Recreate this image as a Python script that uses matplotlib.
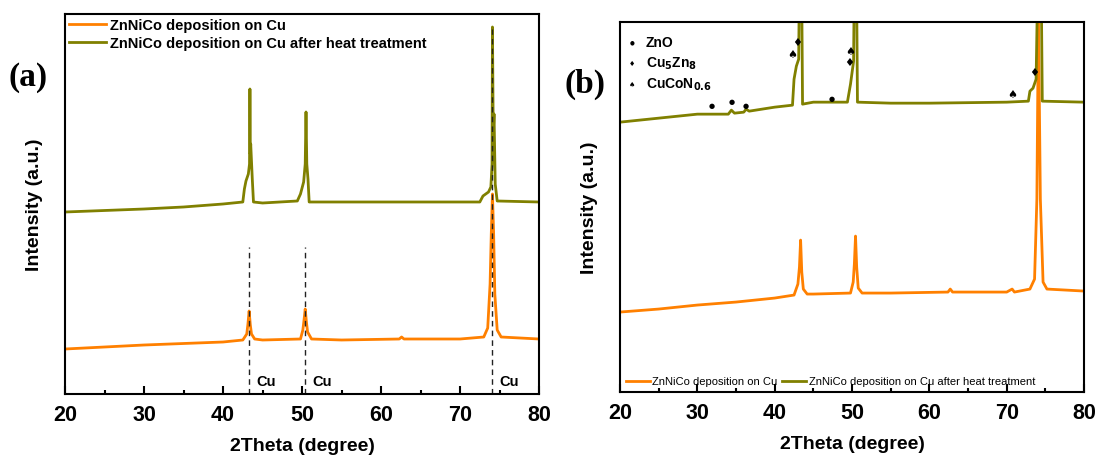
import matplotlib
matplotlib.use("Agg")
import matplotlib.pyplot as plt
from matplotlib.ticker import MultipleLocator

plt.rcParams['font.family'] = ['Liberation Sans', 'DejaVu Sans']
plt.rcParams['font.weight'] = 'bold'

ORANGE = '#ff8000'
OLIVE = '#808000'

# ---- panel (a) data (2theta, intensity a.u.) ----
a_orange_x = [20, 30, 40, 42.5, 43.0, 43.15, 43.3, 43.45, 43.6, 44.0, 45, 49.8, 50.1, 50.25,
              50.4, 50.55, 50.7, 51.2, 55, 62.3, 62.6, 62.9, 70, 73.0, 73.5, 73.8, 73.95,
              74.1, 74.25, 74.4, 74.7, 75.2, 80]
a_orange_y = [450, 490, 520, 540, 600, 700, 830, 690, 600, 550, 540, 550, 640, 740,
              850, 720, 620, 550, 540, 550, 570, 550, 550, 570, 660, 1100, 1600,
              2000, 1600, 1000, 640, 570, 550]

a_olive_x = [20, 30, 35, 40, 42.5, 42.7, 42.9, 43.2, 43.35, 43.4, 43.45, 43.5, 43.7, 43.85,
             45, 49.4, 49.8, 50.2, 50.4, 50.5, 50.6, 50.75, 50.9, 55, 60, 70, 72.5, 72.9,
             73.6, 73.9, 74.05, 74.1, 74.2, 74.3, 74.45, 74.7, 80]
a_olive_y = [1820, 1850, 1870, 1900, 1920, 2050, 2130, 2200, 2300, 3050, 2400, 2500, 2150, 1920,
             1910, 1930, 2000, 2120, 2300, 2820, 2300, 2150, 1920, 1920, 1920, 1920, 1920, 1980,
             2020, 2070, 2300, 3670, 2600, 2800, 2100, 1930, 1920]

cu_peaks = [43.3, 50.4, 74.1]
cu_tops = [1470, 1470, 3650]

# ---- panel (b) data ----
b_orange_x = [20, 25, 30, 35, 40, 42.5, 43.0, 43.2, 43.35, 43.5, 43.7, 44.2, 45, 49.8, 50.15,
              50.3, 50.45, 50.6, 50.8, 51.3, 55, 62.4, 62.7, 63.0, 70, 70.7, 71.0, 73.0,
              73.6, 73.9, 74.1, 74.35, 74.7, 75.2, 80]
b_orange_y = [800, 830, 870, 900, 940, 970, 1080, 1250, 1520, 1200, 1030, 980, 980, 990, 1100,
              1280, 1560, 1250, 1040, 990, 990, 1000, 1030, 1000, 1000, 1030, 1000, 1030,
              1130, 1930, 3800, 1930, 1100, 1030, 1010]

b_olive_x = [20, 25, 30, 34.0, 34.4, 34.8, 36.0, 36.3, 36.7, 40, 42.3, 42.5, 42.8, 43.1, 43.3,
             43.4, 43.6, 45, 47.4, 49.4, 49.8, 50.2, 50.4, 50.5, 50.7, 55, 60, 70, 72.8, 73.0,
             73.4, 73.8, 74.2, 74.35, 74.6, 80]
b_olive_y = [2700, 2740, 2780, 2780, 2820, 2790, 2800, 2830, 2810, 2850, 2870, 3130, 3260, 3330, 5000,
             5000, 2880, 2900, 2900, 2900, 3080, 3310, 5000, 5000, 2900, 2890, 2890, 2900, 2910, 3010,
             3040, 3130, 5000, 5000, 2910, 2900]

zno_x = [31.8, 34.4, 36.2, 47.4]
zno_y = [2870, 2910, 2870, 2940]
cuzn_x = [42.9, 49.6, 73.6]
cuzn_y = [3500, 3300, 3200]
cucon_x = [42.3, 49.8, 70.7]
cucon_y = [3380, 3410, 2980]

label_orange = 'ZnNiCo deposition on Cu'
label_olive = 'ZnNiCo deposition on Cu after heat treatment'

fig = plt.figure(figsize=(10.97, 4.64), dpi=100)
ax1 = fig.add_axes([0.0593, 0.1487, 0.4321, 0.819])
ax2 = fig.add_axes([0.5652, 0.153, 0.423, 0.797])


def style_axis(ax, ytop):
    ax.set_xlim(20, 80)
    ax.set_ylim(0, ytop)
    ax.set_yticks([])
    ax.xaxis.set_major_locator(MultipleLocator(10))
    ax.xaxis.set_minor_locator(MultipleLocator(5))
    ax.tick_params(axis='x', which='major', direction='in', length=6, width=1.5,
                   labelsize=15.5, pad=7)
    ax.tick_params(axis='x', which='minor', direction='in', length=3, width=1.5)
    for lab in ax.get_xticklabels():
        lab.set_fontweight('bold')
    for sp in ax.spines.values():
        sp.set_linewidth(1.5)
    ax.set_xlabel('2Theta (degree)', fontsize=14, fontweight='bold', labelpad=9)
    ax.set_ylabel('Intensity (a.u.)', fontsize=14, fontweight='bold', labelpad=16)


# panel (a)
ax1.plot(a_orange_x, a_orange_y, color=ORANGE, lw=2, label=label_orange)
ax1.plot(a_olive_x, a_olive_y, color=OLIVE, lw=2, label=label_olive)
for p, t in zip(cu_peaks, cu_tops):
    ax1.plot([p, p], [0, t], color='#222222', lw=1, ls=(0, (4, 3)))
    ax1.text(p + 0.9, 60, 'Cu', fontsize=10.5, fontweight='bold', ha='left', va='bottom')
style_axis(ax1, 3800)
ax1.legend(loc='upper left', frameon=False, handlelength=2.5,
           handletextpad=0.3, labelspacing=0.25, borderaxespad=0.0, borderpad=0.3,
           prop={'weight': 'bold', 'size': 10.5})
fig.text(0.008, 0.815, '(a)', fontsize=24, fontweight='bold', family='Liberation Serif')

# panel (b)
ax2.plot(b_orange_x, b_orange_y, color=ORANGE, lw=2, label=label_orange)
ax2.plot(b_olive_x, b_olive_y, color=OLIVE, lw=2, label=label_olive)
for x, y in zip(zno_x, zno_y):
    ax2.text(x, y, '\u25cf', fontsize=5, ha='center', va='center', family='DejaVu Sans')
for x, y in zip(cuzn_x, cuzn_y):
    ax2.text(x, y, '\u2666', fontsize=8, ha='center', va='center', family='DejaVu Sans')
for x, y in zip(cucon_x, cucon_y):
    ax2.text(x, y, '\u2660', fontsize=8, ha='center', va='center', family='DejaVu Sans')

phase_sym = ['\u25cf', '\u2666', '\u2660']
phase_size = [4, 5, 5]
phase_name = ['ZnO', 'Cu$_\\mathbf{5}$Zn$_\\mathbf{8}$', 'CuCoN$_\\mathbf{0.6}$']
for i in range(3):
    yy = 0.946 - i * 0.056
    ax2.text(0.025, yy, phase_sym[i], transform=ax2.transAxes, fontsize=phase_size[i],
             ha='center', va='center', family='DejaVu Sans')
    ax2.text(0.055, yy, phase_name[i], transform=ax2.transAxes, fontsize=10,
             fontweight='bold', ha='left', va='center')
style_axis(ax2, 3700)
ax2.legend(loc='lower left', ncol=2, frameon=False, handlelength=2.2,
           handletextpad=0.2, columnspacing=0.4, borderaxespad=0.2, borderpad=0.3,
           prop={'weight': 'normal', 'size': 8})
fig.text(0.515, 0.80, '(b)', fontsize=24, fontweight='bold', family='Liberation Serif')

fig.savefig('out.png', dpi=100)
